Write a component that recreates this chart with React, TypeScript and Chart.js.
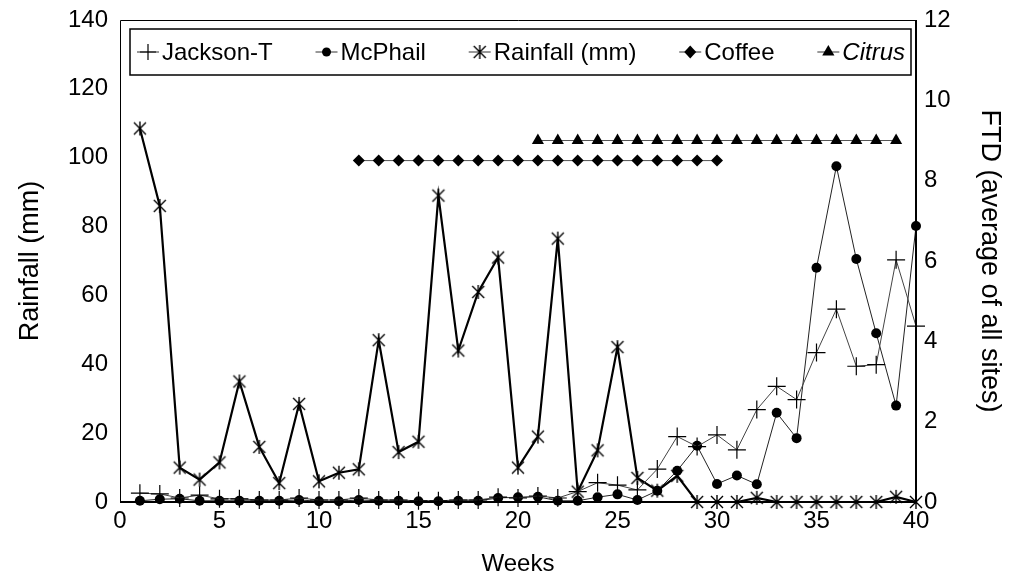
import React, { useEffect, useRef } from "react";
import { Chart, registerables } from "chart.js";

Chart.register(...registerables);

const weeks = [1, 2, 3, 4, 5, 6, 7, 8, 9, 10, 11, 12, 13, 14, 15, 16, 17, 18, 19, 20,
  21, 22, 23, 24, 25, 26, 27, 28, 29, 30, 31, 32, 33, 34, 35, 36, 37, 38, 39, 40];

const rainfall = [108.5, 86, 10, 6.5, 11.5, 35, 16, 5.5, 28.5, 6, 8.5, 9.5, 47, 14.5, 17.5, 89, 44, 61, 71, 10,
  19, 76.5, 3, 15, 45, 7, 3.3, 7.6, 0, 0, 0, 1.2, 0, 0, 0, 0, 0, 0, 1.5, 0];

const jacksonT = [0.22, 0.2, 0.1, 0.17, 0.08, 0.08, 0.05, 0.05, 0.1, 0.05, 0.05, 0.1, 0.05, 0.05, 0.03, 0.03, 0.05, 0.05, 0.12, 0.1,
  0.15, 0.1, 0.26, 0.48, 0.42, 0.3, 0.82, 1.63, 1.38, 1.67, 1.3, 2.3, 2.88, 2.55, 3.72, 4.8, 3.38, 3.42, 6.03, 4.38];

const mcPhail = [0.03, 0.07, 0.08, 0.03, 0.03, 0.03, 0.03, 0.03, 0.05, 0.02, 0.02, 0.05, 0.03, 0.03, 0.02, 0.02, 0.03, 0.03, 0.1, 0.12,
  0.13, 0.03, 0.03, 0.12, 0.19, 0.05, 0.28, 0.78, 1.4, 0.45, 0.66, 0.44, 2.22, 1.59, 5.83, 8.36, 6.05, 4.2, 2.4, 6.87];

const coffeeWeeks = [12, 13, 14, 15, 16, 17, 18, 19, 20, 21, 22, 23, 24, 25, 26, 27, 28, 29, 30];
const coffeeLevel = [8.5, 8.5, 8.5, 8.5, 8.5, 8.5, 8.5, 8.5, 8.5, 8.5, 8.5, 8.5, 8.5, 8.5, 8.5, 8.5, 8.5, 8.5, 8.5];

const citrusWeeks = [21, 22, 23, 24, 25, 26, 27, 28, 29, 30, 31, 32, 33, 34, 35, 36, 37, 38, 39];
const citrusLevel = [9, 9, 9, 9, 9, 9, 9, 9, 9, 9, 9, 9, 9, 9, 9, 9, 9, 9, 9];

const xTitle = "Weeks";
const yLeftTitle = "Rainfall (mm)";
const yRightTitle = "FTD (average of all sites)";

const FONT = "'Liberation Sans', Arial, Helvetica, sans-serif";

function makeAsterisk(size: number): HTMLCanvasElement {
  const c = document.createElement("canvas");
  c.width = size;
  c.height = size;
  const ctx = c.getContext("2d")!;
  ctx.strokeStyle = "#000";
  ctx.lineWidth = 1.4;
  const m = size / 2;
  const d = size / 2 - 2;
  ctx.beginPath();
  ctx.moveTo(m - d, m - d);
  ctx.lineTo(m + d, m + d);
  ctx.moveTo(m + d, m - d);
  ctx.lineTo(m - d, m + d);
  ctx.moveTo(m, m - d - 1);
  ctx.lineTo(m, m + d + 1);
  ctx.stroke();
  return c;
}

function drawMarker(ctx: CanvasRenderingContext2D, kind: string, x: number, y: number, star: HTMLCanvasElement) {
  ctx.save();
  ctx.fillStyle = "#000";
  ctx.strokeStyle = "#000";
  ctx.lineWidth = 1.2;
  ctx.beginPath();
  if (kind === "cross") {
    ctx.moveTo(x - 8, y);
    ctx.lineTo(x + 8, y);
    ctx.moveTo(x, y - 8);
    ctx.lineTo(x, y + 8);
    ctx.stroke();
  } else if (kind === "circle") {
    ctx.arc(x, y, 4.5, 0, Math.PI * 2);
    ctx.fill();
  } else if (kind === "star") {
    ctx.drawImage(star, x - star.width / 2, y - star.height / 2);
  } else if (kind === "rectRot") {
    ctx.moveTo(x - 6, y);
    ctx.lineTo(x, y - 6.5);
    ctx.lineTo(x + 6, y);
    ctx.lineTo(x, y + 6.5);
    ctx.closePath();
    ctx.fill();
  } else if (kind === "triangle") {
    ctx.moveTo(x, y - 7);
    ctx.lineTo(x + 6.1, y + 3.5);
    ctx.lineTo(x - 6.1, y + 3.5);
    ctx.closePath();
    ctx.fill();
  }
  ctx.restore();
}

export default function App() {
  const ref = useRef<HTMLCanvasElement | null>(null);

  useEffect(() => {
    const canvas = ref.current;
    if (!canvas) return;
    const star = makeAsterisk(16);

    const pts = (xs: number[], ys: number[]) => xs.map((x, i) => ({ x, y: ys[i] }));

    const legendKinds: Record<string, string> = {
      "Jackson-T": "cross",
      "McPhail": "circle",
      "Rainfall (mm)": "star",
      "Coffee": "rectRot",
      "Citrus": "triangle",
    };
    const legendOrder = ["Jackson-T", "McPhail", "Rainfall (mm)", "Coffee", "Citrus"];

    const framePlugin = {
      id: "frame",
      afterDatasetsDraw(chart: any) {
        const { ctx, chartArea: a } = chart;
        ctx.save();
        ctx.strokeStyle = "#000";
        ctx.lineWidth = 1;
        ctx.beginPath();
        ctx.moveTo(a.left + 0.5, a.bottom);
        ctx.lineTo(a.left + 0.5, a.top + 0.5);
        ctx.lineTo(a.right, a.top + 0.5);
        ctx.stroke();
        ctx.lineWidth = 2;
        ctx.beginPath();
        ctx.moveTo(a.right, a.top);
        ctx.lineTo(a.right, a.bottom);
        ctx.moveTo(a.left, a.bottom);
        ctx.lineTo(a.right + 1, a.bottom);
        ctx.stroke();
        ctx.restore();
      },
    };

    const legendPlugin = {
      id: "boxLegend",
      afterDraw(chart: any) {
        const { ctx, chartArea: a } = chart;
        const boxL = a.left + 10;
        const boxT = a.top + 9;
        const boxR = a.right - 5;
        const boxB = a.top + 55;
        ctx.save();
        ctx.fillStyle = "#fff";
        ctx.fillRect(boxL, boxT, boxR - boxL, boxB - boxT);
        ctx.strokeStyle = "#000";
        ctx.lineWidth = 1.5;
        ctx.strokeRect(boxL, boxT, boxR - boxL, boxB - boxT);
        const cy = (boxT + boxB) / 2;
        const lineLen = 22;
        const textGap = 3;
        const items = legendOrder.map((label) => {
          const italic = label === "Citrus";
          ctx.font = `${italic ? "italic " : ""}24px ${FONT}`;
          return { label, italic, w: ctx.measureText(label).width };
        });
        const startX = boxL + 7;
        const endX = boxR - 6;
        const used = items.reduce((s, it) => s + lineLen + textGap + it.w, 0);
        const gap = (endX - startX - used) / (items.length - 1);
        let x = startX;
        items.forEach((it) => {
          ctx.strokeStyle = "#333";
          ctx.lineWidth = 1;
          ctx.beginPath();
          ctx.moveTo(x, cy);
          ctx.lineTo(x + lineLen, cy);
          ctx.stroke();
          drawMarker(ctx, legendKinds[it.label], x + lineLen / 2, cy, star);
          ctx.font = `${it.italic ? "italic " : ""}24px ${FONT}`;
          ctx.fillStyle = "#000";
          ctx.textAlign = "left";
          ctx.textBaseline = "middle";
          ctx.fillText(it.label, x + lineLen + textGap, cy + 1);
          x += lineLen + textGap + it.w + gap;
        });
        ctx.restore();
      },
    };

    const tickFont = { family: FONT, size: 24 };
    const yTitleFont = { family: FONT, size: 27 };

    const fitVertical = (w: number) => (s: any) => {
      s.width = w;
      s.paddingTop = 0;
      s.paddingBottom = 0;
    };

    const chart = new Chart(canvas, {
      type: "line",
      data: {
        datasets: [
          {
            label: "Citrus",
            data: pts(citrusWeeks, citrusLevel),
            yAxisID: "y2",
            borderColor: "#555",
            borderWidth: 1,
            pointStyle: "triangle",
            pointRadius: 7,
            pointBackgroundColor: "#000",
            pointBorderColor: "#000",
            pointBorderWidth: 0,
            clip: false,
          },
          {
            label: "Coffee",
            data: pts(coffeeWeeks, coffeeLevel),
            yAxisID: "y2",
            borderColor: "#555",
            borderWidth: 1,
            pointStyle: "rectRot",
            pointRadius: 6,
            pointBackgroundColor: "#000",
            pointBorderColor: "#000",
            pointBorderWidth: 0,
            clip: false,
          },
          {
            label: "Jackson-T",
            data: pts(weeks, jacksonT),
            yAxisID: "y2",
            borderColor: "#444",
            borderWidth: 1,
            pointStyle: "cross",
            pointRadius: 9,
            pointBorderColor: "#000",
            pointBorderWidth: 1.2,
            clip: false,
          },
          {
            label: "McPhail",
            data: pts(weeks, mcPhail),
            yAxisID: "y2",
            borderColor: "#222",
            borderWidth: 1,
            pointStyle: "circle",
            pointRadius: 5,
            pointBackgroundColor: "#000",
            pointBorderColor: "#000",
            pointBorderWidth: 0,
            clip: false,
          },
          {
            label: "Rainfall (mm)",
            data: pts(weeks, rainfall),
            yAxisID: "y",
            borderColor: "#000",
            borderWidth: 2.2,
            pointStyle: star,
            pointRadius: 8,
            clip: false,
          },
        ],
      },
      options: {
        animation: false,
        responsive: false,
        maintainAspectRatio: false,
        layout: { padding: { top: 20, left: 0, right: 0, bottom: 0 } },
        plugins: {
          legend: { display: false },
          tooltip: { enabled: false },
        },
        scales: {
          x: {
            type: "linear",
            position: "bottom",
            min: 0,
            max: 40,
            ticks: { stepSize: 5, color: "#000", font: tickFont, padding: 5 },
            grid: { display: false, drawTicks: false },
            border: { display: false },
            title: { display: true, text: xTitle, color: "#000", font: tickFont, padding: 0 },
            afterFit: (s: any) => { s.height = 77; },
          },
          y: {
            type: "linear",
            position: "left",
            min: 0,
            max: 140,
            ticks: { stepSize: 20, color: "#000", font: tickFont, padding: 12 },
            grid: { display: false, drawTicks: false },
            border: { display: false },
            title: { display: true, text: yLeftTitle, color: "#000", font: yTitleFont, padding: { top: 14, bottom: 0 } },
            afterFit: fitVertical(120),
          },
          y2: {
            type: "linear",
            position: "right",
            min: 0,
            max: 12,
            ticks: { stepSize: 2, color: "#000", font: tickFont, padding: 8 },
            grid: { display: false, drawTicks: false },
            border: { display: false },
            title: { display: true, text: yRightTitle, color: "#000", font: yTitleFont, padding: { top: 5, bottom: 0 } },
            afterFit: fitVertical(95),
          },
        },
      },
      plugins: [framePlugin, legendPlugin],
    } as any);

    return () => chart.destroy();
  }, []);

  return (
    <div style={{ position: "absolute", left: 0, top: 0, width: 1011, height: 579, background: "#fff" }}>
      <canvas ref={ref} width={1011} height={579} style={{ display: "block", width: 1011, height: 579 }} />
    </div>
  );
}
